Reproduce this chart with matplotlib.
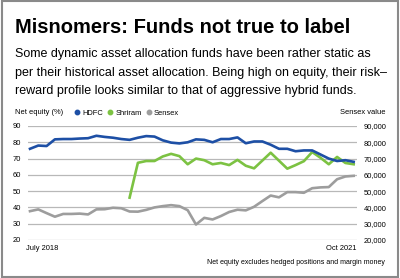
import numpy as np
import matplotlib
matplotlib.use("Agg")
import matplotlib.pyplot as plt
from matplotlib.lines import Line2D
from matplotlib.patches import Rectangle

# monthly data, July 2018 .. Oct 2021
months = np.arange(40)
hdfc = [76, 78, 77.7, 81.8, 82, 82, 82.3, 82.5, 84, 83.3,
        82.8, 82, 81.5, 82.8, 83.8, 83.5, 81.2, 79.8, 79.3, 80,
        81.8, 81.5, 80, 82, 82, 83, 79.4, 80.5, 80.5, 78.5,
        76, 76, 74.5, 75, 75, 72.5, 70, 68.5, 69, 68]
shriram = [np.nan] * 12 + [46, 67.4, 68.5, 68.5, 71.3, 72.9, 71.5, 66.5,
           70, 69, 66.5, 67.3, 66, 69.2, 65.6, 64, 68.8, 73.6,
           68.7, 63.8, 66, 68.4, 74, 70.5, 66.5, 71, 67.3, 66.5]
sensex = [37700, 38800, 36500, 34300, 36000, 36000, 36200, 35700, 38800, 38900,
          39800, 39500, 37500, 37400, 38500, 40000, 40800, 41400, 40800, 38300,
          29500, 33600, 32600, 34700, 37200, 38600, 38200, 40400, 43900, 47300,
          46200, 49400, 49400, 49000, 51800, 52300, 52500, 57300, 59000, 59400]

left_ticks = [20, 30, 40, 50, 60, 70, 80, 90]
right_labels = ["20,000", "30,000", "40,000", "50,000", "60,000", "70,000", "80,000", "90,000"]

blue = "#1d4fa5"
green = "#7cc242"
grey = "#9d9d9d"
font = "Liberation Sans"
small = 5.4

fig = plt.figure(figsize=(4, 2.78), dpi=100)
fig.patches.append(Rectangle((0.004, 0.004), 0.992, 0.992, transform=fig.transFigure,
                             fill=False, edgecolor="#8a8a8a", linewidth=1.5))

fig.text(15 / 400, 1 - 33 / 278, "Misnomers: Funds not true to label", family=font,
         fontsize=14.5, fontweight="bold", va="baseline", ha="left")
fig.text(15 / 400, 1 - 48.5 / 278,
         "Some dynamic asset allocation funds have been rather static as\n"
         "per their historical asset allocation. Being high on equity, their risk\u2013\n"
         "reward profile looks similar to that of aggressive hybrid funds.",
         family=font, fontsize=9.0, va="top", ha="left", linespacing=1.68)

ax = fig.add_axes([28 / 400, 1 - 240 / 278, 329 / 400, 114 / 278])
ax.plot(months, np.array(sensex) / 1000, color=grey, lw=1.9)
ax.plot(months, shriram, color=green, lw=1.9)
ax.plot(months, hdfc, color=blue, lw=1.9)
ax.set_xlim(-0.24, 39.4)
ax.set_ylim(20, 90)
ax.set_yticks(left_ticks)
ax.yaxis.grid(True, color="#b8b8b8", lw=0.9)
ax.set_axisbelow(True)
for s in ax.spines.values():
    s.set_visible(False)
ax.tick_params(axis="y", length=0, pad=5, labelsize=small, labelfontfamily=font)
ax.set_xticks([])

ax2 = ax.twinx()
ax2.set_ylim(20, 90)
ax2.set_yticks(left_ticks)
ax2.set_yticklabels(right_labels)
for s in ax2.spines.values():
    s.set_visible(False)
ax2.tick_params(axis="y", length=0, pad=5, labelsize=small, labelfontfamily=font)

fig.text(26 / 400, 1 - 249 / 278, "July 2018", family=font, fontsize=small, va="center", ha="left")
fig.text(357 / 400, 1 - 249 / 278, "Oct 2021", family=font, fontsize=small, va="center", ha="right")
fig.text(385 / 400, 1 - 263 / 278, "Net equity excludes hedged positions and margin money",
         family=font, fontsize=5.0, va="center", ha="right")

fig.text(15 / 400, 1 - 113 / 278, "Net equity (%)", family=font, fontsize=small, va="center", ha="left")
fig.text(385 / 400, 1 - 113 / 278, "Sensex value", family=font, fontsize=small, va="center", ha="right")
handles = [Line2D([], [], ls="none", marker="o", ms=3.2, color=c, label=l)
           for c, l in [(blue, "HDFC"), (green, "Shriram"), (grey, "Sensex")]]
fig.legend(handles=handles, ncol=3, loc="center left", bbox_to_anchor=(74 / 400, 1 - 113 / 278),
           frameon=False, handlelength=0.8, handletextpad=0.3, columnspacing=0.55,
           prop={"family": font, "size": small}, borderpad=0, borderaxespad=0)

fig.savefig("out.png", dpi=100)
